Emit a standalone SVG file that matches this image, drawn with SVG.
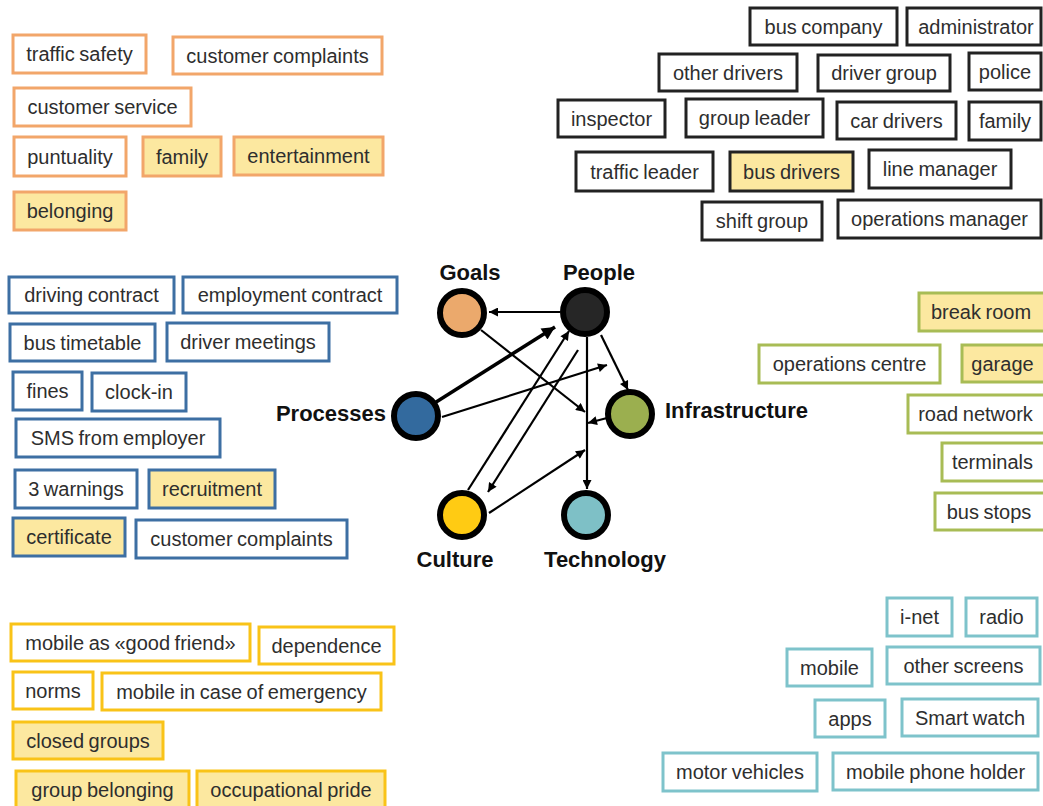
<svg xmlns="http://www.w3.org/2000/svg" width="1043" height="806" viewBox="0 0 1043 806">
<defs>
<style>
.b rect{fill:#fff;stroke-width:3}
.b rect.f{fill:#FCE8A0}
.b text{font-family:"Liberation Sans",Arial,sans-serif;font-size:20px;word-spacing:-1px;fill:#2e2e2e;text-anchor:middle}
.og rect{stroke:#F2A66A}
.bk rect{stroke:#222}
.bl rect{stroke:#3D6FA3}
.gr rect{stroke:#A8BC55}
.ye rect{stroke:#F9C318}
.te rect{stroke:#7EC3CB}
.n circle{stroke:#000;stroke-width:6}
.lbl{font-family:"Liberation Sans",Arial,sans-serif;font-size:22px;font-weight:bold;fill:#111}
.c line{stroke:#000;stroke-width:2.2}
</style>
<marker id="ah" viewBox="0 0 10 10" refX="10" refY="5" markerWidth="10" markerHeight="9" markerUnits="userSpaceOnUse" orient="auto"><path d="M0,0 L10,5 L0,10 z" fill="#000"/></marker>
<marker id="ahb" viewBox="0 0 10 10" refX="10" refY="5" markerWidth="15" markerHeight="13" markerUnits="userSpaceOnUse" orient="auto"><path d="M0,0 L10,5 L0,10 z" fill="#000"/></marker>
</defs>
<rect width="1043" height="806" fill="#fff"/>

<g id="goals-items" class="b og">
<rect x="13" y="35" width="133" height="38"/><text x="79.5" y="61">traffic safety</text>
<rect x="173" y="37" width="209" height="37"/><text x="277.5" y="62.5">customer complaints</text>
<rect x="14" y="88" width="177" height="38"/><text x="102.5" y="114">customer service</text>
<rect x="14" y="137" width="112" height="39"/><text x="70" y="163.5">puntuality</text>
<rect class="f" x="143" y="137" width="78" height="39"/><text x="182" y="163.5">family</text>
<rect class="f" x="234" y="137" width="149" height="38"/><text x="308.5" y="163">entertainment</text>
<rect class="f" x="14" y="192" width="112" height="38"/><text x="70" y="218">belonging</text>
</g>

<g id="people-items" class="b bk">
<rect x="750" y="8" width="147" height="37"/><text x="823.5" y="33.5">bus company</text>
<rect x="907" y="8" width="134" height="37"/><text x="976" y="33.5">administrator</text>
<rect x="659" y="54" width="138" height="37"/><text x="728" y="79.5">other drivers</text>
<rect x="818" y="55" width="132" height="36"/><text x="884" y="80">driver group</text>
<rect x="969" y="53" width="72" height="37"/><text x="1005" y="78.5">police</text>
<rect x="558" y="100" width="107" height="37"/><text x="611.5" y="125.5">inspector</text>
<rect x="686" y="99" width="137" height="38"/><text x="754.5" y="125">group leader</text>
<rect x="837" y="102" width="119" height="37"/><text x="896.5" y="127.5">car drivers</text>
<rect x="969" y="102" width="72" height="38"/><text x="1005" y="128">family</text>
<rect x="576" y="152" width="137" height="39"/><text x="644.5" y="178.5">traffic leader</text>
<rect class="f" x="730" y="152" width="123" height="39"/><text x="791.5" y="178.5">bus drivers</text>
<rect x="869" y="150" width="142" height="38"/><text x="940" y="176">line manager</text>
<rect x="702" y="202" width="120" height="38"/><text x="762" y="228">shift group</text>
<rect x="838" y="200" width="203" height="38"/><text x="939.5" y="226">operations manager</text>
</g>

<g id="processes-items" class="b bl">
<rect x="9" y="277" width="165" height="36"/><text x="91.5" y="302">driving contract</text>
<rect x="183" y="277" width="214" height="36"/><text x="290" y="302">employment contract</text>
<rect x="10" y="324" width="145" height="37"/><text x="82.5" y="349.5">bus timetable</text>
<rect x="167" y="323" width="162" height="38"/><text x="248" y="349">driver meetings</text>
<rect x="13" y="372" width="69" height="38"/><text x="47.5" y="398">fines</text>
<rect x="92" y="373" width="94" height="38"/><text x="139" y="399">clock-in</text>
<rect x="16" y="419" width="204" height="38"/><text x="118" y="445">SMS from employer</text>
<rect x="15" y="470" width="122" height="38"/><text x="76" y="496">3 warnings</text>
<rect class="f" x="149" y="470" width="126" height="38"/><text x="212" y="496">recruitment</text>
<rect class="f" x="13" y="518" width="112" height="38"/><text x="69" y="544">certificate</text>
<rect x="136" y="520" width="211" height="38"/><text x="241.5" y="546">customer complaints</text>
</g>

<g id="infrastructure-items" class="b gr">
<rect class="f" x="919" y="293" width="128" height="38"/><text x="981" y="319">break room</text>
<rect x="759" y="345" width="181" height="38"/><text x="849.5" y="371">operations centre</text>
<rect class="f" x="962" y="345" width="85" height="37"/><text x="1002.5" y="370.5">garage</text>
<rect x="908" y="395" width="139" height="38"/><text x="975.5" y="421">road network</text>
<rect x="942" y="443" width="105" height="38"/><text x="992.5" y="469">terminals</text>
<rect x="935" y="493" width="112" height="37"/><text x="989" y="518.5">bus stops</text>
</g>

<g id="culture-items" class="b ye">
<rect x="11" y="624" width="239" height="37"/><text x="130.5" y="649.5">mobile as «good friend»</text>
<rect x="259" y="627" width="135" height="37"/><text x="326.5" y="652.5">dependence</text>
<rect x="13" y="672" width="80" height="37"/><text x="53" y="697.5">norms</text>
<rect x="102" y="673" width="279" height="37"/><text x="241.5" y="698.5">mobile in case of emergency</text>
<rect class="f" x="13" y="722" width="150" height="37"/><text x="88" y="747.5">closed groups</text>
<rect class="f" x="16" y="771" width="173" height="37"/><text x="102.5" y="797">group belonging</text>
<rect class="f" x="197" y="771" width="188" height="37"/><text x="291" y="797">occupational pride</text>
</g>

<g id="technology-items" class="b te">
<rect x="887" y="598" width="65" height="38"/><text x="919.5" y="624">i-net</text>
<rect x="966" y="598" width="71" height="38"/><text x="1001.5" y="624">radio</text>
<rect x="787" y="649" width="85" height="37"/><text x="829.5" y="674.5">mobile</text>
<rect x="887" y="647" width="153" height="37"/><text x="963.5" y="672.5">other screens</text>
<rect x="815" y="700" width="70" height="37"/><text x="850" y="725.5">apps</text>
<rect x="902" y="699" width="136" height="37"/><text x="970" y="724.5">Smart watch</text>
<rect x="663" y="753" width="154" height="38"/><text x="740" y="779">motor vehicles</text>
<rect x="833" y="753" width="205" height="37"/><text x="935.5" y="778.5">mobile phone holder</text>
</g>

<g id="connectors" class="c">
<line x1="560" y1="312" x2="489" y2="312" marker-end="url(#ah)"/>
<line x1="433" y1="404" x2="555" y2="327" style="stroke-width:3.5" marker-end="url(#ahb)"/>
<line x1="442" y1="417" x2="607" y2="365" marker-end="url(#ah)"/>
<line x1="481" y1="330" x2="585" y2="412" marker-end="url(#ah)"/>
<line x1="601" y1="335" x2="628" y2="390" marker-end="url(#ah)"/>
<line x1="607" y1="418" x2="588" y2="423" marker-end="url(#ah)"/>
<line x1="587" y1="337" x2="587" y2="489" marker-end="url(#ah)"/>
<line x1="468" y1="490" x2="569" y2="331" marker-end="url(#ah)"/>
<line x1="578" y1="350" x2="488" y2="492" marker-end="url(#ah)"/>
<line x1="489" y1="513" x2="585" y2="450" marker-end="url(#ah)"/>
</g>

<g id="node-goals" class="n"><circle cx="462" cy="313" r="22" fill="#EBA96C"/><text class="lbl" x="470" y="280" text-anchor="middle">Goals</text></g>
<g id="node-people" class="n"><circle cx="585" cy="312" r="22" fill="#262626"/><text class="lbl" x="599" y="280" text-anchor="middle">People</text></g>
<g id="node-processes" class="n"><circle cx="416" cy="416" r="22" fill="#336A9E"/><text class="lbl" x="386" y="421" text-anchor="end">Processes</text></g>
<g id="node-infrastructure" class="n"><circle cx="630" cy="414" r="22" fill="#9BAF4F"/><text class="lbl" x="665" y="418">Infrastructure</text></g>
<g id="node-culture" class="n"><circle cx="462" cy="515" r="22" fill="#FFCB13"/><text class="lbl" x="455" y="567" text-anchor="middle">Culture</text></g>
<g id="node-technology" class="n"><circle cx="586" cy="515" r="22" fill="#7EC0C6"/><text class="lbl" x="605" y="567" text-anchor="middle">Technology</text></g>
</svg>
